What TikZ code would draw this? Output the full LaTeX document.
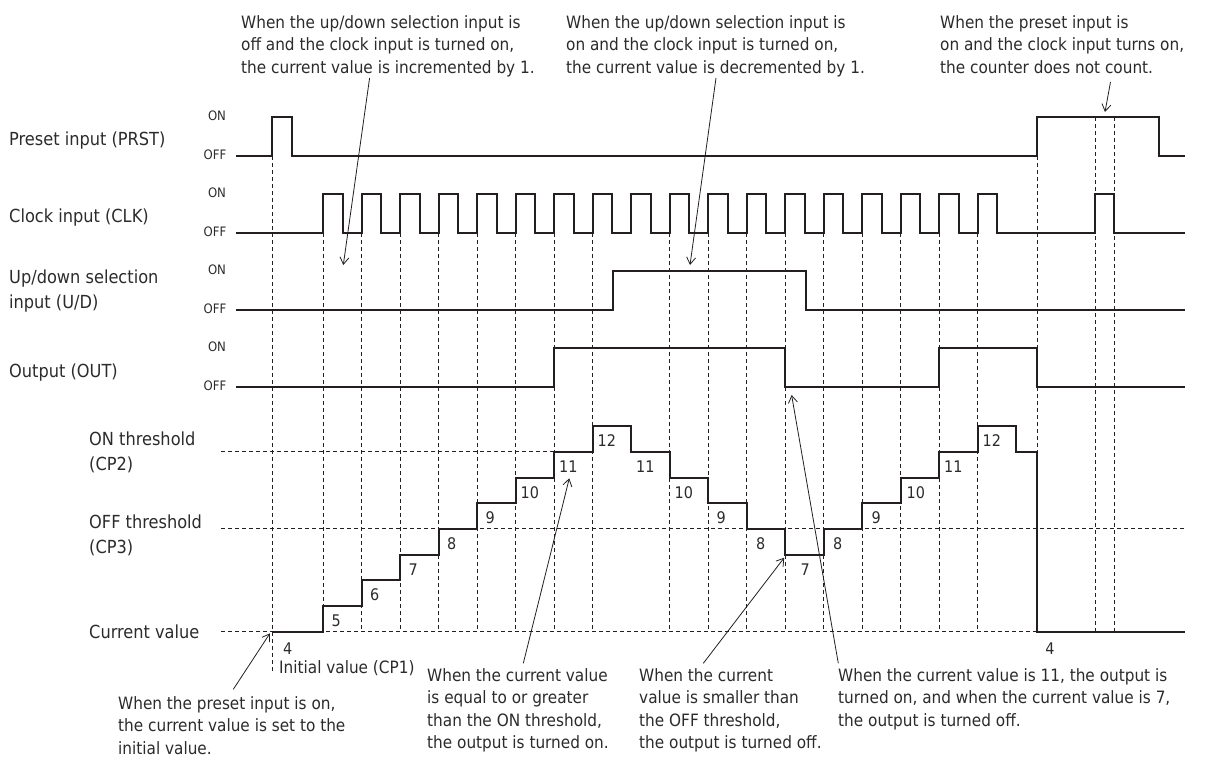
\documentclass[tikz,border=0pt]{standalone}
\usepackage{fontspec}
\setmainfont{DejaVu Sans Condensed}
\usetikzlibrary{positioning, arrows.meta, calc}
\definecolor{ink}{HTML}{231F20}
\definecolor{txtgray}{HTML}{2B2B2B}

\begin{document}
\begin{tikzpicture}[
  x=1pt, y=-1pt,
  >={Straight Barb[length=7pt, width=9pt]},
  every node/.style={font=\fontsize{17}{22.5}\selectfont, text=txtgray, inner sep=0pt},
  wave/.style={line width=2pt, ink, line join=miter},
  grid/.style={dash pattern=on 4pt off 3pt, line width=0.9pt, ink},
  arr/.style={->, line width=0.8pt, ink},
  rowlabel/.style={anchor=west, align=left, font=\fontsize{18}{25}\selectfont},
  lvl/.style={font=\fontsize{13}{15}\selectfont},
  note/.style={anchor=north west, align=left},
  val/.style={font=\fontsize{16}{18}\selectfont},
]
\useasboundingbox (0,0) rectangle (1205,760);

% === ROW LABELS (left) ===
\node[rowlabel] (lblPRST) at (9,141) {Preset input (PRST)};
\node[rowlabel] (lblCLK) at (9,218) {Clock input (CLK)};
\node[rowlabel] (lblUD) at (9,291) {Up/down selection\\input (U/D)};
\node[rowlabel] (lblOUT) at (9,373) {Output (OUT)};
\node[rowlabel] (lblCP2) at (89,452) {ON threshold\\(CP2)};
\node[rowlabel] (lblCP3) at (89,535) {OFF threshold\\(CP3)};
\node[rowlabel] (lblCV) at (89,632) {Current value};

% ON / OFF marks for the four signals
\foreach \row/\yoff in {prst/156, clk/233, ud/310, out/387} {
  \node[lvl] (on-\row) at (217,{\yoff-40}) {ON};
  \node[lvl] (off-\row) at (215,{\yoff-1}) {OFF};
}

% === DASHED GUIDES ===
\foreach \k in {0,1,2,3,4,5,6,7,9,10,11,12,13,14,15,16,17}
  \draw[grid] ({323.3+38.5*\k},233) -- ({323.3+38.5*\k},631.7);
\draw[grid] (272.3,156) -- (272.3,673);
\draw[grid] (1037.2,156) -- (1037.2,631.7);
\draw[grid] (1095,117) -- (1095,631.7);
\draw[grid] (1114.4,117) -- (1114.4,631.7);

\draw[grid] (221,451.8) -- (555,451.8);
\draw[grid] (221,528.9) -- (1185,528.9);
\draw[grid] (221,631.7) -- (1037.2,631.7);

% === WAVEFORMS ===
% preset
\draw[wave] (236,156) -- (272.3,156) -- ++(0,-39) -- (291.7,117) -- ++(0,39)
  -- (1037.2,156) -- ++(0,-39) -- (1159.2,117) -- ++(0,39) -- (1185,156);
% clock
\draw[wave] (236,233)
  \foreach \k in {0,...,17} { -- ({323.3+38.5*\k},233) -- ++(0,-39) -- ++(19.5,0) -- ++(0,39) }
  -- (1095,233) -- ++(0,-39) -- (1114.4,194) -- ++(0,39) -- (1185,233);
% up/down
\draw[wave] (236,310) -- (612.7,310) -- ++(0,-39) -- (805.8,271) -- ++(0,39) -- (1185,310);
% output
\draw[wave] (236,387) -- (554.3,387) -- ++(0,-39) -- (785.3,348) -- ++(0,39)
  -- (939.3,387) -- ++(0,-39) -- (1037.2,348) -- ++(0,39) -- (1185,387);
% current value staircase
\draw[wave] (272.3,631.7)
  \foreach \v [count=\k from 0] in {5,6,7,8,9,10,11,12,11,10,9,8,7,8,9,10,11,12}
    { -| ({323.3+38.5*\k},{631.7-25.7*(\v-4)}) }
  -| (1016.3,451.8) -| (1037.2,631.7) -- (1185,631.7);

% step values
\foreach \v/\dx [count=\k from 0] in {5/13,6/13,7/13,8/13,9/13,10/14,11/14,12/14,11/14,10/14,9/13,8/14,7/20,8/14,9/14,10/15,11/14,12/14}
  \node[val] (val\k) at ({323.3+38.5*\k+\dx},{631.7-25.7*(\v-4)+14.7}) {\v};
\node[val] (valInit) at (287.7,648.3) {4};
\node[val] (valReset) at (1050,648.3) {4};
\node[anchor=west] (lblCP1) at (279,668.3) {Initial value (CP1)};

% === NOTES (top) ===
\node[note] (noteUp) at (241,15) {When the up/down selection input is\\off and the clock input is turned on,\\the current value is incremented by 1.};
\node[note] (noteDown) at (566,15) {When the up/down selection input is\\on and the clock input is turned on,\\the current value is decremented by 1.};
\node[note] (noteHold) at (940,15) {When the preset input is\\on and the clock input turns on,\\the counter does not count.};

\coordinate (upFrom) at (369.6,78);
\coordinate (upTip) at (343.3,265);
\coordinate (downFrom) at (716,78);
\coordinate (downTip) at (690,265);
\coordinate (holdFrom) at (1110.5,82);
\coordinate (holdTip) at (1105,112);
\draw[arr] (upFrom) -- (upTip);
\draw[arr] (downFrom) -- (downTip);
\draw[arr] (holdFrom) -- (holdTip);

% === NOTES (bottom) ===
\node[note] (notePreset) at (118,696) {When the preset input is on,\\the current value is set to the\\initial value.};
\node[note] (noteOn) at (427,668) {When the current value\\is equal to or greater\\than the ON threshold,\\the output is turned on.};
\node[note] (noteOff) at (639,668) {When the current\\value is smaller than\\the OFF threshold,\\the output is turned off.};
\node[note] (noteSwitch) at (838,668) {When the current value is 11, the output is\\turned on, and when the current value is 7,\\the output is turned off.};

\coordinate (presetFrom) at (233.3,689.3);
\coordinate (presetTip) at (270,633.3);
\coordinate (onFrom) at (523.3,663.3);
\coordinate (onTip) at (569.3,478.3);
\coordinate (offFrom) at (703.3,663.3);
\coordinate (offTip) at (784.2,557.7);
\coordinate (switchFrom) at (838.3,663.3);
\coordinate (switchTip) at (791.6,395);
\draw[arr] (presetFrom) -- (presetTip);
\draw[arr] (onFrom) -- (onTip);
\draw[arr] (offFrom) -- (offTip);
\draw[arr] (switchFrom) -- (switchTip);

\end{tikzpicture}
\end{document}
